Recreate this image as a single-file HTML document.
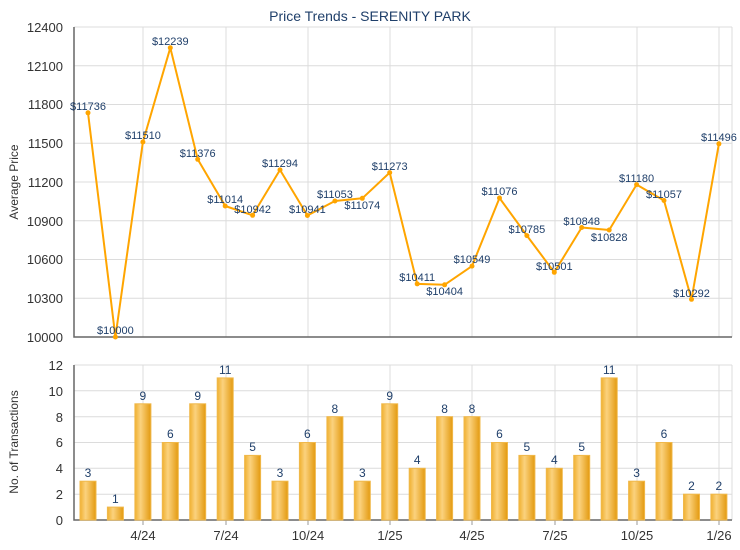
<!DOCTYPE html>
<html><head><meta charset="utf-8"><style>
body{margin:0;background:#fff}
svg{display:block;font-family:"Liberation Sans",sans-serif}
</style></head><body>
<svg width="740" height="550" viewBox="0 0 740 550" xmlns="http://www.w3.org/2000/svg">
<defs>
<linearGradient id="bg" x1="0" x2="1" y1="0" y2="0">
<stop offset="0" stop-color="#f0b030"/><stop offset="0.35" stop-color="#fbd27e"/><stop offset="1" stop-color="#e39a10"/>
</linearGradient>
</defs>
<text x="370" y="21" text-anchor="middle" font-size="14" fill="#1f3f6a">Price Trends - SERENITY PARK</text>
<g stroke="#dcdcdc" stroke-width="1">
<line x1="74" x2="732" y1="27" y2="27"/><line x1="74" x2="732" y1="65.75" y2="65.75"/><line x1="74" x2="732" y1="104.5" y2="104.5"/><line x1="74" x2="732" y1="143.25" y2="143.25"/><line x1="74" x2="732" y1="182" y2="182"/><line x1="74" x2="732" y1="220.75" y2="220.75"/><line x1="74" x2="732" y1="259.5" y2="259.5"/><line x1="74" x2="732" y1="298.25" y2="298.25"/>
<line x1="74" x2="732" y1="365" y2="365"/><line x1="74" x2="732" y1="390.8" y2="390.8"/><line x1="74" x2="732" y1="416.7" y2="416.7"/><line x1="74" x2="732" y1="442.5" y2="442.5"/><line x1="74" x2="732" y1="468.3" y2="468.3"/><line x1="74" x2="732" y1="494.2" y2="494.2"/>
<g>
<line x1="143" x2="143" y1="27" y2="337"/><line x1="226" x2="226" y1="27" y2="337"/><line x1="308" x2="308" y1="27" y2="337"/><line x1="390" x2="390" y1="27" y2="337"/><line x1="472" x2="472" y1="27" y2="337"/><line x1="555" x2="555" y1="27" y2="337"/><line x1="637" x2="637" y1="27" y2="337"/><line x1="719" x2="719" y1="27" y2="337"/><line x1="732" x2="732" y1="27" y2="337"/>
<line x1="143" x2="143" y1="365" y2="520"/><line x1="226" x2="226" y1="365" y2="520"/><line x1="308" x2="308" y1="365" y2="520"/><line x1="390" x2="390" y1="365" y2="520"/><line x1="472" x2="472" y1="365" y2="520"/><line x1="555" x2="555" y1="365" y2="520"/><line x1="637" x2="637" y1="365" y2="520"/><line x1="719" x2="719" y1="365" y2="520"/><line x1="732" x2="732" y1="365" y2="520"/>
</g></g>
<g stroke="#666" stroke-width="1.5" fill="none">
<polyline points="74,27 74,337 732,337"/>
<polyline points="74,365 74,520 732,520"/>
</g>
<g stroke="#999"><line x1="143" x2="143" y1="520" y2="525"/><line x1="226" x2="226" y1="520" y2="525"/><line x1="308" x2="308" y1="520" y2="525"/><line x1="390" x2="390" y1="520" y2="525"/><line x1="472" x2="472" y1="520" y2="525"/><line x1="555" x2="555" y1="520" y2="525"/><line x1="637" x2="637" y1="520" y2="525"/><line x1="719" x2="719" y1="520" y2="525"/></g>
<g font-size="13" fill="#333" text-anchor="end">
<text x="63" y="32">12400</text><text x="63" y="71">12100</text><text x="63" y="109">11800</text><text x="63" y="148">11500</text><text x="63" y="187">11200</text><text x="63" y="226">10900</text><text x="63" y="264">10600</text><text x="63" y="303">10300</text><text x="63" y="342">10000</text>
<text x="63" y="370">12</text><text x="63" y="396">10</text><text x="63" y="422">8</text><text x="63" y="447">6</text><text x="63" y="473">4</text><text x="63" y="499">2</text><text x="63" y="525">0</text>
</g>
<g font-size="13" fill="#333" text-anchor="middle">
<text x="143" y="540">4/24</text><text x="226" y="540">7/24</text><text x="308" y="540">10/24</text><text x="390" y="540">1/25</text><text x="472" y="540">4/25</text><text x="555" y="540">7/25</text><text x="637" y="540">10/25</text><text x="719" y="540">1/26</text>
</g>
<text transform="translate(18,182) rotate(-90)" text-anchor="middle" font-size="12" fill="#333">Average Price</text>
<text transform="translate(18,442) rotate(-90)" text-anchor="middle" font-size="12" fill="#333">No. of Transactions</text>
<g fill="url(#bg)" stroke="#f0b84a" stroke-width="1">
<rect x="80" y="481.2" width="16" height="38.8"/><rect x="107.4" y="507.1" width="16" height="12.9"/><rect x="134.9" y="403.8" width="16" height="116.2"/><rect x="162.3" y="442.5" width="16" height="77.5"/><rect x="189.7" y="403.8" width="16" height="116.2"/><rect x="217.2" y="377.9" width="16" height="142.1"/><rect x="244.6" y="455.4" width="16" height="64.6"/><rect x="272" y="481.2" width="16" height="38.8"/><rect x="299.4" y="442.5" width="16" height="77.5"/><rect x="326.9" y="416.7" width="16" height="103.3"/><rect x="354.3" y="481.2" width="16" height="38.8"/><rect x="381.7" y="403.8" width="16" height="116.2"/><rect x="409.2" y="468.3" width="16" height="51.7"/><rect x="436.6" y="416.7" width="16" height="103.3"/><rect x="464" y="416.7" width="16" height="103.3"/><rect x="491.5" y="442.5" width="16" height="77.5"/><rect x="518.9" y="455.4" width="16" height="64.6"/><rect x="546.3" y="468.3" width="16" height="51.7"/><rect x="573.7" y="455.4" width="16" height="64.6"/><rect x="601.2" y="377.9" width="16" height="142.1"/><rect x="628.6" y="481.2" width="16" height="38.8"/><rect x="656" y="442.5" width="16" height="77.5"/><rect x="683.5" y="494.2" width="16" height="25.8"/><rect x="710.9" y="494.2" width="16" height="25.8"/>
</g>
<g font-size="12" fill="#1f3f6a" text-anchor="middle">
<text x="88" y="477">3</text><text x="115.4" y="503">1</text><text x="142.9" y="400">9</text><text x="170.3" y="438">6</text><text x="197.7" y="400">9</text><text x="225.2" y="374">11</text><text x="252.6" y="451">5</text><text x="280" y="477">3</text><text x="307.4" y="438">6</text><text x="334.9" y="413">8</text><text x="362.3" y="477">3</text><text x="389.7" y="400">9</text><text x="417.2" y="464">4</text><text x="444.6" y="413">8</text><text x="472" y="413">8</text><text x="499.5" y="438">6</text><text x="526.9" y="451">5</text><text x="554.3" y="464">4</text><text x="581.7" y="451">5</text><text x="609.2" y="374">11</text><text x="636.6" y="477">3</text><text x="664" y="438">6</text><text x="691.5" y="490">2</text><text x="718.9" y="490">2</text>
</g>
<polyline fill="none" stroke="#ffa500" stroke-width="2" stroke-linejoin="round" points="88,112.8 115.4,337 142.9,142 170.3,47.8 197.7,159.3 225.2,206 252.6,215.3 280,169.9 307.4,215.5 334.9,201 362.3,198.3 389.7,172.6 417.2,283.9 444.6,284.8 472,266.1 499.5,198 526.9,235.6 554.3,272.3 581.7,227.5 609.2,230 636.6,184.6 664,200.5 691.5,299.3 718.9,143.8"/>
<g fill="#ffa500">
<circle cx="88" cy="112.8" r="2.5"/><circle cx="115.4" cy="337" r="2.5"/><circle cx="142.9" cy="142" r="2.5"/><circle cx="170.3" cy="47.8" r="2.5"/><circle cx="197.7" cy="159.3" r="2.5"/><circle cx="225.2" cy="206" r="2.5"/><circle cx="252.6" cy="215.3" r="2.5"/><circle cx="280" cy="169.9" r="2.5"/><circle cx="307.4" cy="215.5" r="2.5"/><circle cx="334.9" cy="201" r="2.5"/><circle cx="362.3" cy="198.3" r="2.5"/><circle cx="389.7" cy="172.6" r="2.5"/><circle cx="417.2" cy="283.9" r="2.5"/><circle cx="444.6" cy="284.8" r="2.5"/><circle cx="472" cy="266.1" r="2.5"/><circle cx="499.5" cy="198" r="2.5"/><circle cx="526.9" cy="235.6" r="2.5"/><circle cx="554.3" cy="272.3" r="2.5"/><circle cx="581.7" cy="227.5" r="2.5"/><circle cx="609.2" cy="230" r="2.5"/><circle cx="636.6" cy="184.6" r="2.5"/><circle cx="664" cy="200.5" r="2.5"/><circle cx="691.5" cy="299.3" r="2.5"/><circle cx="718.9" cy="143.8" r="2.5"/>
</g>
<g font-size="11" fill="#1f3f6a" text-anchor="middle">
<text x="88" y="110">$11736</text><text x="115.4" y="334">$10000</text><text x="142.9" y="139">$11510</text><text x="170.3" y="45">$12239</text><text x="197.7" y="157">$11376</text><text x="225.2" y="203">$11014</text><text x="252.6" y="213">$10942</text><text x="280" y="167">$11294</text><text x="307.4" y="213">$10941</text><text x="334.9" y="198">$11053</text><text x="362.3" y="209">$11074</text><text x="389.7" y="170">$11273</text><text x="417.2" y="281">$10411</text><text x="444.6" y="295">$10404</text><text x="472" y="263">$10549</text><text x="499.5" y="195">$11076</text><text x="526.9" y="233">$10785</text><text x="554.3" y="270">$10501</text><text x="581.7" y="225">$10848</text><text x="609.2" y="241">$10828</text><text x="636.6" y="182">$11180</text><text x="664" y="198">$11057</text><text x="691.5" y="297">$10292</text><text x="718.9" y="141">$11496</text>
</g>
</svg>
</body></html>
